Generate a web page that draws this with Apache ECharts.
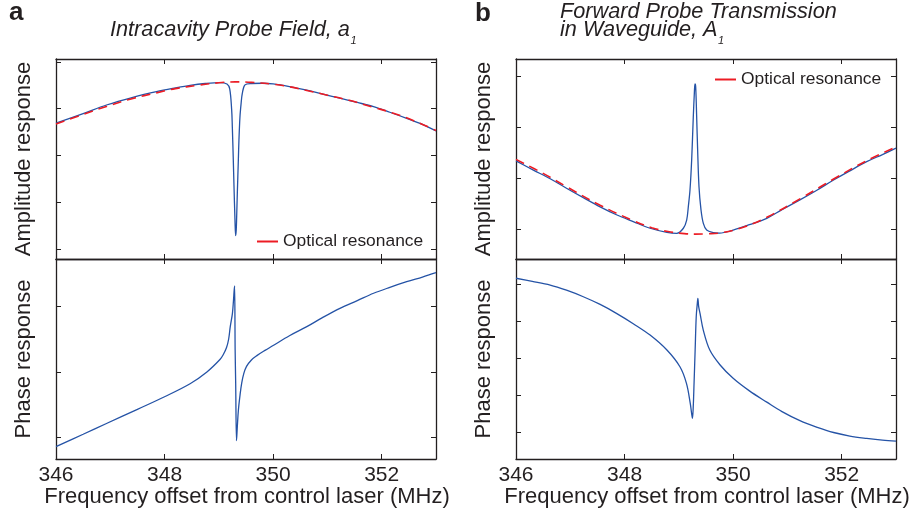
<!DOCTYPE html>
<html><head><meta charset="utf-8">
<script src="https://cdn.jsdelivr.net/npm/echarts@6/dist/echarts.min.js"></script>
<style>html,body{margin:0;padding:0;background:#fff}#c{width:911px;height:514px}</style>
</head><body><div id="c"></div>
<script>
// ---- x axis ----
const xTicks = [346, 348, 350, 352];

// ---- panel a, amplitude (blue) ----
const freqA1 = [346.0,346.5,346.93,347.4,347.85,348.2,348.47,348.75,349.02,349.15,349.2,349.236,349.248,349.266,349.279,349.297,349.309,349.32,349.328,349.34,349.359,349.37,349.389,349.41,349.432,349.481,349.6,349.8,350.0,350.3,350.62,350.9,351.23,351.55,351.85,352.15,352.46,352.75,353.0];
const ampA1  = [0.738,0.779,0.816,0.848,0.873,0.889,0.900,0.908,0.912,0.906,0.885,0.795,0.723,0.581,0.467,0.324,0.257,0.281,0.338,0.438,0.581,0.666,0.766,0.823,0.866,0.902,0.908,0.909,0.906,0.895,0.880,0.864,0.845,0.827,0.809,0.785,0.759,0.733,0.705];
// ---- panel a, optical resonance (red dashed) ----
const envFreqA = [346.0,346.5,346.93,347.4,347.85,348.2,348.6,349.0,349.3,349.6,350.0,350.3,350.62,351.0,351.4,351.85,352.2,352.6,353.0];
const envA     = [0.735,0.776,0.810,0.843,0.868,0.886,0.900,0.911,0.915,0.913,0.905,0.894,0.878,0.858,0.836,0.806,0.782,0.748,0.707];
// ---- panel a, phase ----
const freqA2 = [346.0,346.5,346.93,347.5,348.0,348.47,348.78,349.02,349.08,349.14,349.18,349.21,349.25,349.27,349.28,349.29,349.30,349.31,349.325,349.34,349.36,349.39,349.42,349.46,349.51,349.6,349.70,349.85,350.0,350.3,350.62,350.9,351.23,351.55,351.85,352.15,352.46,352.75,353.0];
const phaseA = [-0.570,-0.475,-0.393,-0.285,-0.189,-0.090,0.000,0.095,0.132,0.185,0.250,0.346,0.448,0.550,0.613,0.657,0.168,-0.086,-0.524,-0.418,-0.290,-0.176,-0.086,-0.010,0.043,0.092,0.125,0.165,0.202,0.277,0.346,0.413,0.486,0.545,0.601,0.646,0.689,0.725,0.758];

// ---- panel b, amplitude (blue) ----
const freqB1 = [346.0,346.32,346.63,346.93,347.24,347.55,347.85,348.16,348.47,348.78,348.96,349.083,349.144,349.174,349.205,349.236,349.266,349.285,349.297,349.31,349.328,349.346,349.371,349.408,349.451,349.512,349.635,349.75,350.0,350.3,350.62,350.9,351.23,351.55,351.85,352.15,352.46,352.75,353.0];
const ampB1  = [0.467,0.431,0.397,0.360,0.323,0.287,0.256,0.229,0.203,0.187,0.183,0.203,0.235,0.287,0.353,0.471,0.640,0.732,0.769,0.758,0.640,0.510,0.366,0.275,0.222,0.196,0.186,0.184,0.196,0.217,0.242,0.276,0.314,0.353,0.392,0.428,0.464,0.492,0.517];
// ---- panel b, optical resonance (red dashed) ----
const envFreqB = [346.0,346.5,346.93,347.55,348.16,348.5,348.8,349.1,349.3,349.5,349.8,350.2,350.62,351.23,351.85,352.46,353.0];
const envB     = [0.473,0.418,0.366,0.293,0.233,0.205,0.190,0.182,0.180,0.181,0.186,0.208,0.246,0.318,0.396,0.468,0.522];
// ---- panel b, phase ----
const freqB2 = [346.0,346.3,346.63,346.93,347.24,347.55,347.85,348.16,348.47,348.78,349.02,349.14,349.21,349.235,349.25,349.265,349.28,349.30,349.32,349.34,349.35,349.365,349.39,349.45,349.57,349.76,350.0,350.3,350.62,350.9,351.23,351.55,351.85,352.15,352.46,352.75,353.0];
const phaseB = [0.539,0.518,0.493,0.458,0.414,0.362,0.302,0.232,0.155,0.054,-0.059,-0.171,-0.306,-0.374,-0.407,-0.329,-0.171,0.054,0.279,0.370,0.403,0.347,0.302,0.189,0.054,-0.047,-0.137,-0.222,-0.298,-0.362,-0.423,-0.468,-0.503,-0.527,-0.543,-0.555,-0.561];

// ---- y tick positions (no labels in the original) ----
const yTicksA1 = [0.2,0.4,0.6,0.8,1.0];
const yTicksA2 = [-0.5,0,0.5];
const yTicksB1 = [0.2,0.4,0.6,0.8];
const yTicksB2 = [-0.5,-0.25,0,0.25,0.5];

const INK = '#231f20', BLUE = '#2553a6', RED = '#ec1c24';
const FONT = 'Liberation Sans, Arial, Helvetica, sans-serif';
const zip = (a, b) => a.map((v, i) => [v, b[i]]);

const grids = [
  {left:56, top:59, width:380, height:200},
  {left:56, top:259, width:380, height:200},
  {left:516, top:59, width:380, height:200},
  {left:516, top:259, width:380, height:200}
];
const yRanges = [
  [0.1572, 1.0128, yTicksA1],
  [-0.664, 0.8626, yTicksA2],
  [0.0824, 0.8667, yTicksB1],
  [-0.682, 0.669, yTicksB2]
];
const xAxis = [], yAxis = [];
grids.forEach((g, i) => {
  ['bottom','top'].forEach(pos => {
    xAxis.push({
      type:'value', gridIndex:i, position:pos, min:346, max:353, interval:2,
      axisLine:{show:true, onZero:false, lineStyle:{color:INK, width:1.3}},
      axisTick:{show:true, inside:true, length:5, customValues:xTicks, lineStyle:{color:INK, width:1}},
      axisLabel:{show: pos==='bottom' && (i===1 || i===3), customValues:xTicks, margin:6, fontSize:21, color:INK, fontFamily:FONT},
      splitLine:{show:false}
    });
  });
  ['left','right'].forEach(pos => {
    yAxis.push({
      type:'value', gridIndex:i, position:pos, min:yRanges[i][0], max:yRanges[i][1],
      axisLine:{show:true, onZero:false, lineStyle:{color:INK, width:1.3}},
      axisTick:{show:true, inside:true, length:5, customValues:yRanges[i][2], lineStyle:{color:INK, width:1}},
      axisLabel:{show:false},
      splitLine:{show:false}
    });
  });
});

function blue(name, g, data) {
  return {name, type:'line', xAxisIndex:2*g, yAxisIndex:2*g, data, showSymbol:false, symbol:'none',
    smooth:0.35, lineStyle:{color:BLUE, width:1.3}, itemStyle:{color:BLUE}, z:2};
}
function red(g, data) {
  return {name:'Optical resonance', type:'line', xAxisIndex:2*g, yAxisIndex:2*g, data, showSymbol:false, symbol:'none',
    smooth:0.4, lineStyle:{color:RED, width:1.6, type:[9,6]}, itemStyle:{color:RED}, z:3};
}

// measure text to place subscripts right after the title text
const mctx = document.createElement('canvas').getContext('2d');
function textW(t, size, style) { mctx.font = (style||'') + ' ' + size + 'px ' + FONT; return mctx.measureText(t).width; }
const TS = 21.7;
const titleA = 'Intracavity Probe Field, a';
const titleB1 = 'Forward Probe Transmission';
const titleB2 = 'in Waveguide, A';

const txt = (o) => ({type:'text', silent:true, style:Object.assign({fill:INK, fontFamily:FONT}, o.style), x:o.x, y:o.y, rotation:o.rotation||0});

const option = {
  animation:false,
  backgroundColor:'#fff',
  grid: grids,
  xAxis, yAxis,
  legend: [
    {data:['Optical resonance'], left:257, top:233, padding:0, icon:'rect', itemWidth:21, itemHeight:2, selectedMode:false,
     textStyle:{fontSize:17.4, color:INK, fontFamily:FONT}},
    {data:['Optical resonance'], left:715, top:71, padding:0, icon:'rect', itemWidth:21, itemHeight:2, selectedMode:false,
     textStyle:{fontSize:17.4, color:INK, fontFamily:FONT}}
  ],
  series: [
    blue('Intracavity amplitude', 0, zip(freqA1, ampA1)),
    red(0, zip(envFreqA, envA)),
    blue('Intracavity phase', 1, zip(freqA2, phaseA)),
    blue('Transmission amplitude', 2, zip(freqB1, ampB1)),
    red(2, zip(envFreqB, envB)),
    blue('Transmission phase', 3, zip(freqB2, phaseB))
  ],
  graphic: [
    txt({x:9, y:13, style:{text:'a', fontSize:26, fontWeight:'bold', textAlign:'left', textVerticalAlign:'middle'}}),
    txt({x:475, y:14, style:{text:'b', fontSize:26, fontWeight:'bold', textAlign:'left', textVerticalAlign:'middle'}}),
    txt({x:110, y:30, style:{text:titleA, fontSize:TS, fontStyle:'italic', textAlign:'left', textVerticalAlign:'middle'}}),
    txt({x:110 + textW(titleA, TS, 'italic') + 0.5, y:41, style:{text:'1', fontSize:11, fontStyle:'italic', textAlign:'left', textVerticalAlign:'middle'}}),
    txt({x:560, y:12, style:{text:titleB1, fontSize:TS, fontStyle:'italic', textAlign:'left', textVerticalAlign:'middle'}}),
    txt({x:560, y:30, style:{text:titleB2, fontSize:TS, fontStyle:'italic', textAlign:'left', textVerticalAlign:'middle'}}),
    txt({x:560 + textW(titleB2, TS, 'italic') + 0.5, y:41, style:{text:'1', fontSize:11, fontStyle:'italic', textAlign:'left', textVerticalAlign:'middle'}}),
    txt({x:24, y:159, rotation:Math.PI/2, style:{text:'Amplitude response', fontSize:22, textAlign:'center', textVerticalAlign:'middle'}}),
    txt({x:24, y:359, rotation:Math.PI/2, style:{text:'Phase response', fontSize:22, textAlign:'center', textVerticalAlign:'middle'}}),
    txt({x:484, y:159, rotation:Math.PI/2, style:{text:'Amplitude response', fontSize:22, textAlign:'center', textVerticalAlign:'middle'}}),
    txt({x:484, y:359, rotation:Math.PI/2, style:{text:'Phase response', fontSize:22, textAlign:'center', textVerticalAlign:'middle'}}),
    txt({x:247, y:497, style:{text:'Frequency offset from control laser (MHz)', fontSize:22, textAlign:'center', textVerticalAlign:'middle'}}),
    txt({x:707, y:497, style:{text:'Frequency offset from control laser (MHz)', fontSize:22, textAlign:'center', textVerticalAlign:'middle'}})
  ]
};
const chart = echarts.init(document.getElementById('c'), null, {renderer:'canvas'});
chart.setOption(option);
</script>
</body></html>
